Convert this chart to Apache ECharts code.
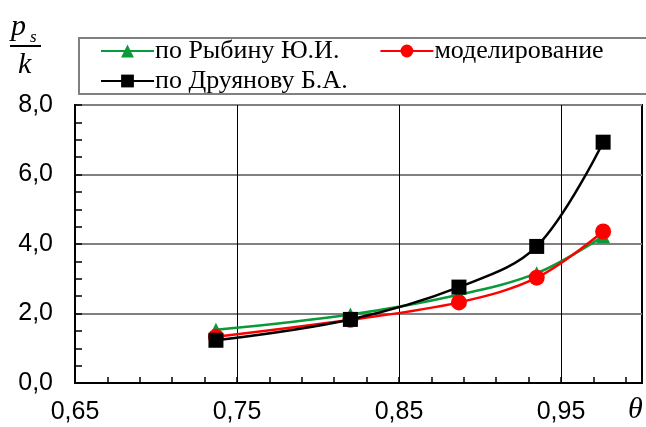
<!DOCTYPE html>
<html>
<head>
<meta charset="utf-8">
<script src="https://cdn.jsdelivr.net/npm/echarts@6/dist/echarts.min.js"></script>
<style>
  html, body { margin: 0; padding: 0; background: #fff; }
  #chart { width: 646px; height: 427px; }
</style>
</head>
<body>
<div id="chart"></div>
<script>
// Relative temperature θ and the dimensionless pressure p_s / k
const theta    = [0.737, 0.820, 0.887, 0.935, 0.976];
const rybin    = [1.53, 1.97, 2.54, 3.16, 4.22];   // по Рыбину Ю.И.
const model    = [1.33, 1.82, 2.32, 3.03, 4.36];   // моделирование
const druyanov = [1.23, 1.83, 2.76, 3.93, 6.93];   // по Друянову Б.А.

const seriesNames = ['по Рыбину Ю.И.', 'моделирование', 'по Друянову Б.А.'];
const xMajor = [0.65, 0.75, 0.85, 0.95];
const yMajor = [0, 2, 4, 6, 8];

const pairs = (xs, ys) => xs.map((x, i) => [x, ys[i]]);
const comma = (v, d) => v.toFixed(d).replace('.', ',');
const isMajor = (v, list) => list.some(m => Math.abs(m - v) < 1e-6);

const chart = echarts.init(document.getElementById('chart'), null, { renderer: 'canvas' });

const labelFont = { fontFamily: 'Liberation Sans, Arial, sans-serif', fontSize: 25, color: '#000' };
const legendText = { fontFamily: 'Liberation Serif, Times New Roman, serif', fontSize: 26, color: '#000' };

chart.setOption({
  animation: false,
  backgroundColor: '#fff',
  grid: {
    left: 75, top: 105, width: 567, height: 278,
    show: true, borderColor: '#000', borderWidth: 2, backgroundColor: 'transparent'
  },
  legend: [
    {
      data: [seriesNames[0], seriesNames[1]],
      left: 95, top: 33, itemWidth: 53, itemHeight: 16, itemGap: 40,
      textStyle: Object.assign({ padding: [0, 0, 0, -4] }, legendText)
    },
    {
      data: [seriesNames[2]],
      left: 95, top: 63, itemWidth: 53, itemHeight: 16,
      textStyle: Object.assign({ padding: [0, 0, 0, -4] }, legendText)
    }
  ],
  xAxis: [
    {
      type: 'value', min: 0.65, max: 1.0, interval: 0.02,
      axisLine: { show: true, onZero: false, lineStyle: { color: '#000', width: 2 } },
      axisTick: { show: true, inside: true, length: 6, lineStyle: { color: '#000', width: 1.5 } },
      axisLabel: Object.assign({
        margin: 17,
        formatter: v => isMajor(v, xMajor) ? comma(v, 2) : ''
      }, labelFont),
      splitLine: { show: false }
    },
    {
      // vertical grid lines every 0.1
      type: 'value', min: 0.65, max: 1.0, interval: 0.1,
      axisLine: { show: false }, axisTick: { show: false }, axisLabel: { show: false },
      splitLine: { show: true, lineStyle: { color: '#000', width: 1 } }
    }
  ],
  yAxis: [
    {
      type: 'value', min: 0, max: 8, interval: 0.5,
      axisLine: { show: true, onZero: false, lineStyle: { color: '#000', width: 2 } },
      axisTick: { show: true, inside: true, length: 7, lineStyle: { color: '#000', width: 1.5 } },
      axisLabel: Object.assign({
        margin: 22,
        formatter: v => isMajor(v, yMajor) ? comma(v, 1) : ''
      }, labelFont),
      splitLine: { show: false }
    },
    {
      // horizontal grid lines every 2
      type: 'value', min: 0, max: 8, interval: 2, position: 'left',
      axisLine: { show: false }, axisTick: { show: false }, axisLabel: { show: false },
      splitLine: { show: true, lineStyle: { color: '#808080', width: 2 } }
    }
  ],
  series: [
    {
      name: seriesNames[0], type: 'line', data: pairs(theta, rybin), smooth: 0.35,
      symbol: 'triangle', symbolSize: 14, z: 2,
      lineStyle: { color: '#0a9a3a', width: 2.5 },
      itemStyle: { color: '#0a9a3a', borderWidth: 0 }
    },
    {
      name: seriesNames[1], type: 'line', data: pairs(theta, model), smooth: 0.35,
      symbol: 'circle', symbolSize: 16, z: 3,
      lineStyle: { color: '#ff0000', width: 2.5 },
      itemStyle: { color: '#ff0000', borderWidth: 0 }
    },
    {
      name: seriesNames[2], type: 'line', data: pairs(theta, druyanov), smooth: 0.35,
      symbol: 'rect', symbolSize: 15, z: 4,
      lineStyle: { color: '#000', width: 2.5 },
      itemStyle: { color: '#000', borderWidth: 0 }
    }
  ],
  graphic: [
    // legend frame, runs past the right edge
    { type: 'rect', left: 78, top: 37, z: -1,
      shape: { width: 600, height: 56 },
      style: { fill: '#fff', stroke: '#808080', lineWidth: 2 } },
    // y-axis title: p_s / k
    { type: 'text', left: 11, top: 12,
      style: { text: 'p', font: 'italic 30px "Liberation Serif", serif', fill: '#000' } },
    { type: 'text', left: 30, top: 29,
      style: { text: 's', font: 'italic 17px "Liberation Serif", serif', fill: '#000' } },
    { type: 'line', shape: { x1: 10, y1: 46, x2: 41, y2: 46 },
      style: { stroke: '#000', lineWidth: 2 } },
    { type: 'text', left: 18, top: 50,
      style: { text: 'k', font: 'italic 30px "Liberation Serif", serif', fill: '#000' } },
    // x-axis title: θ
    { type: 'text', left: 628, top: 395,
      style: { text: 'θ', font: 'italic 30px "Liberation Serif", serif', fill: '#000' } }
  ]
});
</script>
</body>
</html>
